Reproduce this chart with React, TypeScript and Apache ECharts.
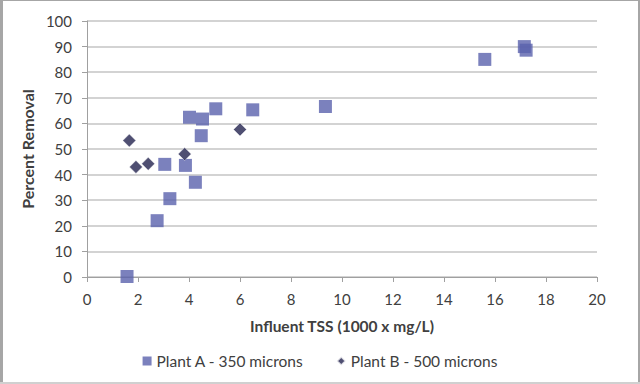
import React, { useEffect, useRef } from "react";
import * as echarts from "echarts";

const plantA: [number, number][] = [
  [1.57, 0.2],
  [2.75, 22.0],
  [3.25, 30.6],
  [3.05, 44.0],
  [3.86, 43.6],
  [4.25, 37.0],
  [4.02, 62.4],
  [4.53, 61.7],
  [4.48, 55.2],
  [5.05, 65.7],
  [6.5, 65.3],
  [9.35, 66.6],
  [15.6, 85.0],
  [17.15, 90.0],
  [17.22, 88.6],
];

const plantB: [number, number][] = [
  [1.66, 53.3],
  [1.92, 43.0],
  [2.4, 44.2],
  [3.83, 48.0],
  [6.0, 57.6],
];

const seriesNames = ["Plant A - 350 microns", "Plant B - 500 microns"];
const xTitle = "Influent TSS (1000 x mg/L)";
const yTitle = "Percent Removal";

export default function App() {
  const ref = useRef<HTMLDivElement>(null);
  useEffect(() => {
    document.body.style.margin = "0";
    const chart = echarts.init(ref.current!, null, { renderer: "svg" });
    const font = "Lato, 'Open Sans', sans-serif";
    chart.setOption({
      animation: false,
      backgroundColor: "#ffffff",
      textStyle: { fontFamily: font },
      grid: { left: 87, right: 43, top: 21, bottom: 107 },
      graphic: [
        { type: "rect", left: 0, top: 0, shape: { width: 3, height: 384 }, style: { fill: "#a6a6a6" }, silent: true },
        { type: "rect", left: 0, top: 0, shape: { width: 640, height: 1 }, style: { fill: "#a6a6a6" }, silent: true },
        { type: "rect", right: 0, top: 0, shape: { width: 2, height: 384 }, style: { fill: "#a6a6a6" }, silent: true },
        { type: "rect", left: 0, bottom: 0, shape: { width: 640, height: 2 }, style: { fill: "#d0d0d0" }, silent: true },
      ],
      legend: {
        left: "center",
        top: 348,
        itemWidth: 9,
        itemHeight: 9,
        itemGap: 32,
        textStyle: { fontFamily: font, fontSize: 15.5, color: "#404040" },
        data: [
          { name: seriesNames[0], icon: "rect" },
          { name: seriesNames[1], icon: "diamond" },
        ],
      },
      xAxis: {
        type: "value",
        min: 0,
        max: 20,
        interval: 2,
        name: xTitle,
        nameLocation: "middle",
        nameGap: 41,
        nameTextStyle: { fontFamily: font, fontSize: 15.5, fontWeight: "bold", color: "#404040" },
        axisLine: { show: true, lineStyle: { color: "#a0a0a0", width: 1 } },
        axisTick: { show: true, length: 5, lineStyle: { color: "#a0a0a0" } },
        axisLabel: { margin: 14, fontSize: 15, color: "#404040", fontFamily: font },
        splitLine: { show: false },
      },
      yAxis: {
        type: "value",
        min: 0,
        max: 100,
        interval: 10,
        name: yTitle,
        nameLocation: "middle",
        nameRotate: 90,
        nameGap: 51,
        nameTextStyle: { fontFamily: font, fontSize: 16, fontWeight: "bold", color: "#404040" },
        axisLine: { show: true, lineStyle: { color: "#a0a0a0", width: 1 } },
        axisTick: { show: true, length: 5, lineStyle: { color: "#a0a0a0" } },
        axisLabel: { margin: 15, fontSize: 15, color: "#404040", fontFamily: font },
        splitLine: { show: true, lineStyle: { color: "#c4c4c4", width: 1.5 } },
      },
      series: [
        {
          name: seriesNames[0],
          type: "scatter",
          symbol: "rect",
          symbolSize: 13,
          data: plantA,
          itemStyle: { color: "#5a62ad" },
        },
        {
          name: seriesNames[1],
          type: "scatter",
          symbol: "diamond",
          symbolSize: 13,
          data: plantB,
          itemStyle: { color: "#23234f", borderColor: "#ffffff", borderWidth: 0.5 },
        },
      ],
    });
    return () => chart.dispose();
  }, []);
  return <div ref={ref} style={{ position: "absolute", left: 0, top: 0, width: 640, height: 384 }} />;
}
